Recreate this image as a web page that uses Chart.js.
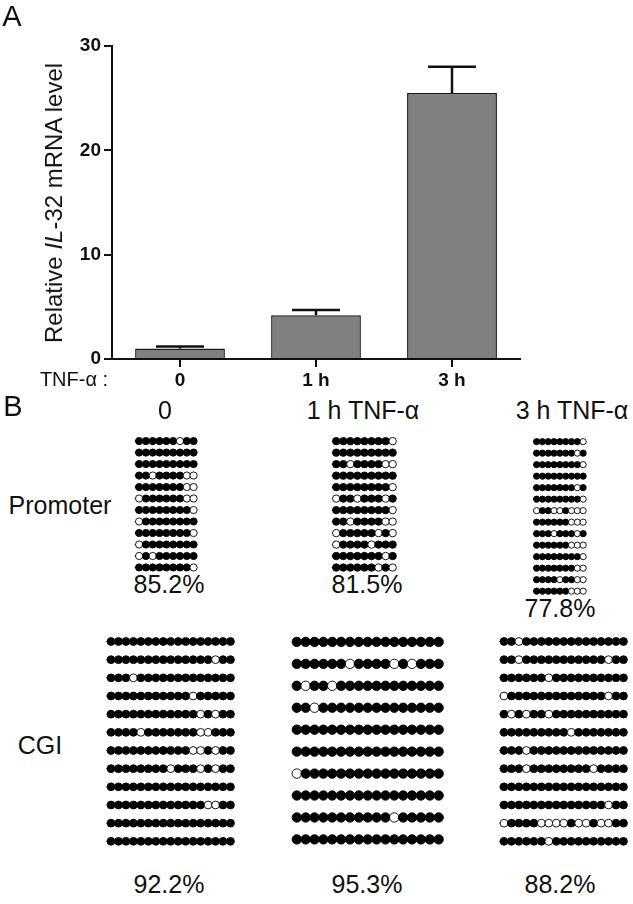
<!DOCTYPE html>
<html>
<head>
<meta charset="utf-8">
<script src="https://cdn.jsdelivr.net/npm/chart.js"></script>
<style>
  body { margin: 0; background: #fff; }
  #page { position: relative; width: 633px; height: 904px; overflow: hidden; font-family: "Liberation Sans", Arial, sans-serif; color: #111; }
  #page canvas { position: absolute; }
  .txt { position: absolute; white-space: nowrap; line-height: 1; transform: translate(-50%, -50%); }
</style>
</head>
<body>
<div id="page">
  <canvas id="barChart" width="633" height="395" style="left:0;top:0"></canvas>

  <div class="txt" style="left:12px;top:16px;font-size:29px">A</div>
  <div class="txt" style="left:54px;top:203px;font-size:24px;transform:translate(-50%,-50%) rotate(-90deg)">Relative <i>IL</i>-32 mRNA level</div>
  <div class="txt" style="left:74px;top:379px;font-size:20px">TNF-α :</div>

  <div class="txt" style="left:13px;top:406px;font-size:29px">B</div>
  <div class="txt" style="left:165px;top:410px;font-size:25px">0</div>
  <div class="txt" style="left:363px;top:410px;font-size:25px">1 h TNF-α</div>
  <div class="txt" style="left:572px;top:410px;font-size:25px">3 h TNF-α</div>
  <div class="txt" style="left:60px;top:505px;font-size:25px">Promoter</div>
  <div class="txt" style="left:40px;top:745px;font-size:25px">CGI</div>

  <div class="txt" style="left:169px;top:584px;font-size:25px">85.2%</div>
  <div class="txt" style="left:367px;top:584px;font-size:25px">81.5%</div>
  <div class="txt" style="left:560px;top:608px;font-size:25px">77.8%</div>
  <div class="txt" style="left:169px;top:884px;font-size:25px">92.2%</div>
  <div class="txt" style="left:367px;top:884px;font-size:25px">95.3%</div>
  <div class="txt" style="left:560px;top:884px;font-size:25px">88.2%</div>

  <canvas id="p0"></canvas>
  <canvas id="p1"></canvas>
  <canvas id="p3"></canvas>
  <canvas id="c0"></canvas>
  <canvas id="c1"></canvas>
  <canvas id="c3"></canvas>
</div>

<script>
// panel A: relative IL-32 mRNA
const groups = ['0', '1 h', '3 h'];
const mrna = [1.0, 4.2, 25.5];
const mrnaErr = [0.2, 0.5, 2.5];

// panel B: methylation per clone, 1 = methylated CpG, 0 = unmethylated
const promoter0 = [
  '111111011', '111111111', '111111111', '110111100',
  '111111100', '011111100', '111111110', '011111111',
  '111111110', '011111111', '010111111', '111111110'
];
const promoter1h = [
  '111111110', '111111111', '110111100', '111111111',
  '111111110', '011011101', '111111110', '110111100',
  '011111010', '011110111', '111111101', '111111010'
];
const promoter3h = [
  '111111110', '111111101', '111111110', '111111111',
  '111111101', '111111110', '011001000', '111111000',
  '111011101', '111111000', '111111110', '111111100',
  '111101100', '111111000'
];
const cgi0 = [
  '11111111111111111', '11111111111111011', '11101111111111111',
  '11111111111011111', '11111111111101011', '11110111111100111',
  '11111111111001011', '11111111011101011', '11111111111111111',
  '11111111111110011', '11111111111111111', '11111111111111111'
];
const cgi1h = [
  '11111111111111111', '11111101111010111', '10110111111111111',
  '11011111111111111', '11111111111111111', '11111111111111111',
  '01111111111111111', '11111111111111111', '11111111111011111',
  '11111111111111111'
];
const cgi3h = [
  '11011111111111111', '11011111111111011', '11111101111111111',
  '01111111111111011', '10101101111111111', '11111111101111111',
  '11101111111111111', '11101111111101111', '11111111111111111',
  '11111111111111011', '01111000010010011', '11111101111111111'
];

Chart.defaults.font.family = '"Liberation Sans", Arial, sans-serif';
Chart.defaults.color = '#111';

const errorBars = {
  id: 'errorBars',
  afterDatasetsDraw(chart) {
    const ctx = chart.ctx, y = chart.scales.y;
    const meta = chart.getDatasetMeta(0);
    ctx.save();
    ctx.strokeStyle = '#111';
    ctx.lineWidth = 2.5;
    meta.data.forEach((bar, i) => {
      const top = y.getPixelForValue(mrna[i] + mrnaErr[i]);
      ctx.beginPath();
      ctx.moveTo(bar.x, bar.y);
      ctx.lineTo(bar.x, top);
      ctx.moveTo(bar.x - 24, top);
      ctx.lineTo(bar.x + 24, top);
      ctx.stroke();
    });
    ctx.restore();
  }
};

new Chart(document.getElementById('barChart'), {
  type: 'bar',
  data: {
    labels: groups,
    datasets: [{
      data: mrna,
      backgroundColor: '#808080',
      borderColor: '#1a1a1a',
      borderWidth: 1.5,
      barPercentage: 0.66,
      categoryPercentage: 1
    }]
  },
  options: {
    responsive: false,
    devicePixelRatio: 1,
    animation: false,
    layout: { padding: { top: 46, right: 113, left: 0, bottom: 0 } },
    plugins: { legend: { display: false }, tooltip: { enabled: false } },
    scales: {
      x: {
        afterFit: s => { s.height = 36; },
        grid: { offset: false, drawOnChartArea: false, tickLength: 8, color: '#111', lineWidth: 2 },
        border: { color: '#111', width: 2 },
        ticks: { font: { size: 19, weight: 'bold' }, padding: 2 }
      },
      y: {
        min: 0, max: 30,
        afterFit: s => { s.width = 112; },
        grid: { drawOnChartArea: false, tickLength: 8, color: '#111', lineWidth: 2 },
        border: { color: '#111', width: 2 },
        ticks: { stepSize: 10, font: { size: 19, weight: 'bold' }, padding: 3 }
      }
    }
  },
  plugins: [errorBars]
});

// lollipop grid drawn as a scatter chart on its own canvas
function makeGrid(id, rows, g) {
  const n = rows[0].length, m = rows.length;
  const mL = g.stub + g.r + 3, mR = g.r + 3, mT = g.r + 3;
  const w = (n - 1) * g.dx + mL + mR;
  const h = (m - 1) * g.dy + 2 * mT;
  const cv = document.getElementById(id);
  cv.width = Math.ceil(w); cv.height = Math.ceil(h);
  cv.style.left = (g.x0 - mL) + 'px';
  cv.style.top = (g.y0 - mT) + 'px';

  const datasets = [];
  rows.forEach((row, j) => {
    datasets.push({
      type: 'line',
      data: [{ x: -g.stub / g.dx, y: j }, { x: n - 1, y: j }],
      borderColor: '#111', borderWidth: 1, pointRadius: 0, order: 2
    });
  });
  const pts = [], fills = [];
  rows.forEach((row, j) => {
    row.split('').forEach((c, i) => {
      pts.push({ x: i, y: j });
      fills.push(c === '1' ? '#000' : '#fff');
    });
  });
  datasets.push({
    type: 'scatter',
    data: pts,
    pointRadius: g.r,
    pointBackgroundColor: fills,
    pointBorderColor: '#000',
    pointBorderWidth: 0.9,
    order: 1
  });

  new Chart(cv, {
    type: 'scatter',
    data: { datasets },
    options: {
      responsive: false,
      devicePixelRatio: 1,
      animation: false,
      layout: { padding: 0 },
      plugins: { legend: { display: false }, tooltip: { enabled: false } },
      scales: {
        x: { type: 'linear', display: false, min: -mL / g.dx, max: (cv.width - mL) / g.dx },
        y: { type: 'linear', display: false, reverse: true, min: -mT / g.dy, max: (cv.height - mT) / g.dy }
      }
    }
  });
}

makeGrid('p0', promoter0, { x0: 136, y0: 437, dx: 7.75, dy: 12.3, r: 3.6, stub: 5 });
makeGrid('p1', promoter1h, { x0: 333, y0: 437, dx: 8, dy: 12.3, r: 3.7, stub: 5 });
makeGrid('p3', promoter3h, { x0: 533, y0: 437, dx: 6.75, dy: 12.2, r: 3.1, stub: 4 });
makeGrid('c0', cgi0, { x0: 107, y0: 637, dx: 8, dy: 19, r: 3.9, stub: 5 });
makeGrid('c1', cgi1h, { x0: 292, y0: 637, dx: 9.5, dy: 23.1, r: 4.7, stub: 0 });
makeGrid('c3', cgi3h, { x0: 500, y0: 637, dx: 8, dy: 19, r: 3.9, stub: 5 });
</script>
</body>
</html>
